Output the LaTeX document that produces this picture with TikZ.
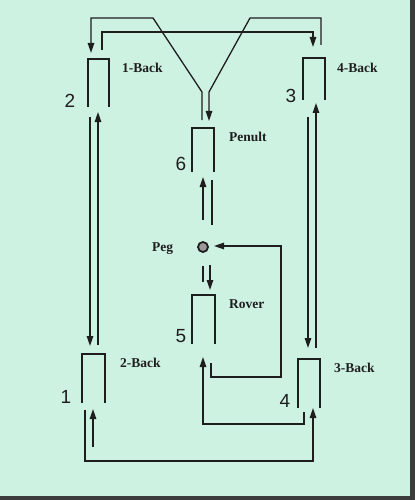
\documentclass[tikz,border=0pt]{standalone}
\usepackage{fontspec}
\setmainfont{Liberation Serif}
\newfontfamily\digitfont{Liberation Sans}
\usetikzlibrary{arrows.meta}
\definecolor{bg}{RGB}{206,242,226}
\definecolor{ink}{RGB}{30,30,30}
\definecolor{edge}{RGB}{60,60,60}
\tikzset{
  wire/.style={draw=ink, line width=1.3pt},
  arr/.style={wire, -{Triangle[length=10pt,width=6.5pt]}},
  slot/.style={draw=ink, line width=1.3pt},
  lab/.style={font=\bfseries\fontsize{13.5}{14}\selectfont, text=ink, inner sep=0pt},
  num/.style={font=\digitfont\fontsize{19}{20}\selectfont, text=ink, inner sep=0pt},
}
\begin{document}
\begin{tikzpicture}[x=1pt,y=-1pt]
\useasboundingbox (0,0) rectangle (415,500);
\fill[bg] (0,0) rectangle (415,500);
\fill[edge] (410,0) rectangle (415,500);
\fill[edge] (0,496) rectangle (415,500);
% boxes (open at the bottom)
\draw[slot] (88,107) -- (88,59) -- (109,59) -- (109,107);
\draw[slot] (303,100) -- (303,58) -- (325,58) -- (325,100);
\draw[slot] (192,172) -- (192,128) -- (214,128) -- (214,172);
\draw[slot] (192,344) -- (192,295) -- (215,295) -- (215,344);
\draw[slot] (82,403) -- (82,354) -- (105,354) -- (105,403);
\draw[slot] (298,408) -- (298,359) -- (320,359) -- (320,408);
% labels
\node[lab, anchor=west] (l1) at (122,68) {1-Back};
\node[lab, anchor=west] (l4) at (337,68) {4-Back};
\node[lab, anchor=west] (lp) at (229,137) {Penult};
\node[lab, anchor=west] (lg) at (152,249) {Peg};
\node[lab, anchor=west] (lr) at (229,304) {Rover};
\node[lab, anchor=west] (l2) at (120,363) {2-Back};
\node[lab, anchor=west] (l3) at (334,368) {3-Back};
\node[num] (n2) at (70,101) {2};
\node[num] (n3) at (291,96) {3};
\node[num] (n6) at (181,164) {6};
\node[num] (n5) at (181,336) {5};
\node[num] (n1) at (66,397) {1};
\node[num] (n4) at (285,401) {4};
% peg
\node[circle, draw=ink, fill=ink!45, line width=1.8pt, minimum size=10pt, inner sep=0pt] (peg) at (203,247) {};
% coordinates for connector ends
\coordinate (a0) at (202,120); \coordinate (a1) at (202,92); \coordinate (a2) at (153,18);
\coordinate (a3) at (91,18); \coordinate (a4) at (91,53);
\coordinate (b0) at (321,45); \coordinate (b1) at (321,18); \coordinate (b2) at (250,18);
\coordinate (b3) at (209,92); \coordinate (b4) at (209,121);
\coordinate (c0) at (102,50); \coordinate (c1) at (102,32); \coordinate (c2) at (313,32); \coordinate (c3) at (313,47);
\coordinate (d0) at (90,117); \coordinate (d1) at (90,346);
\coordinate (e0) at (98,345); \coordinate (e1) at (98,112);
\coordinate (f0) at (308,117); \coordinate (f1) at (308,348);
\coordinate (g0) at (316,348); \coordinate (g1) at (316,103);
\coordinate (h0) at (203,220); \coordinate (h1) at (203,177);
\coordinate (i0) at (212,180); \coordinate (i1) at (212,225);
\coordinate (j0) at (203,266); \coordinate (j1) at (203,282);
\coordinate (k0) at (210,265); \coordinate (k1) at (210,290);
\coordinate (m0) at (211,363); \coordinate (m1) at (211,377); \coordinate (m2) at (281,377);
\coordinate (m3) at (281,246); \coordinate (m4) at (214,246);
\coordinate (p0) at (304,412); \coordinate (p1) at (304,424); \coordinate (p2) at (203,424); \coordinate (p3) at (203,357);
\coordinate (q0) at (93,447); \coordinate (q1) at (93,409);
\coordinate (r0) at (85,410); \coordinate (r1) at (85,461); \coordinate (r2) at (313,461); \coordinate (r3) at (313,408);
% connectors
\draw[arr] (a0) -- (a1) -- (a2) -- (a3) -- (a4);
\draw[arr] (b0) -- (b1) -- (b2) -- (b3) -- (b4);
\draw[arr] (c0) -- (c1) -- (c2) -- (c3);
\draw[arr] (d0) -- (d1);
\draw[arr] (e0) -- (e1);
\draw[arr] (f0) -- (f1);
\draw[arr] (g0) -- (g1);
\draw[arr] (h0) -- (h1);
\draw[wire] (i0) -- (i1);
\draw[wire] (j0) -- (j1);
\draw[arr] (k0) -- (k1);
\draw[arr] (m0) -- (m1) -- (m2) -- (m3) -- (m4);
\draw[arr] (p0) -- (p1) -- (p2) -- (p3);
\draw[arr] (q0) -- (q1);
\draw[arr] (r0) -- (r1) -- (r2) -- (r3);
\end{tikzpicture}
\end{document}
